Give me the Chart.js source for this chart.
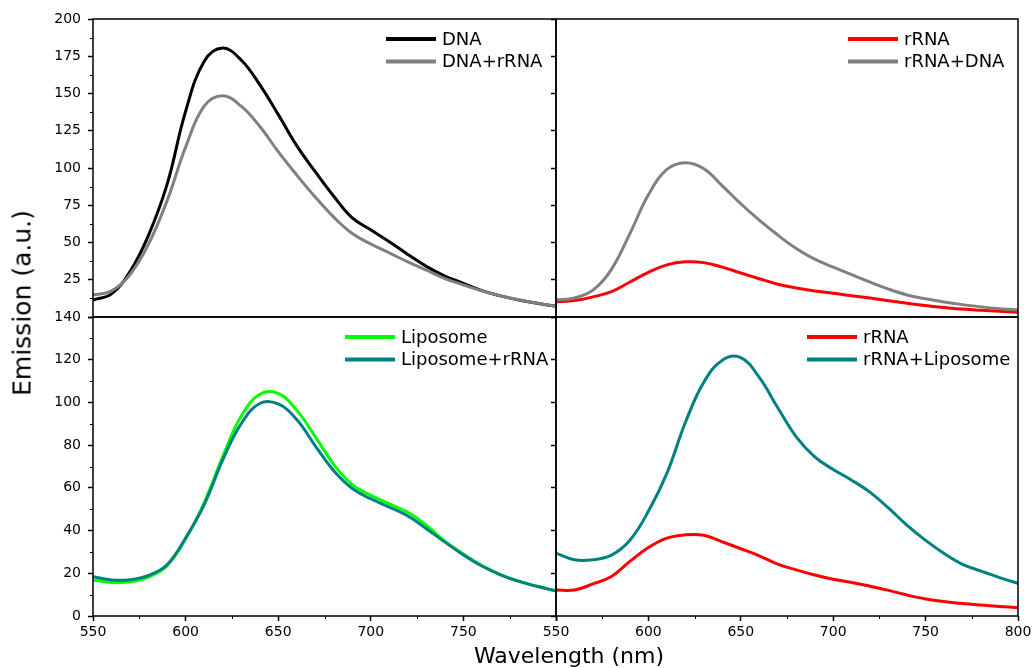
<!DOCTYPE html>
<html>
<head>
<meta charset="utf-8">
<script src="https://cdn.jsdelivr.net/npm/chart.js@4.4.1/dist/chart.umd.min.js"></script>
<style>
  html, body { margin: 0; padding: 0; background: #fff; }
  #stage { position: relative; width: 1032px; height: 668px; overflow: hidden; }
  #stage canvas { position: absolute; left: 0; top: 0; }
  .axis-title { position: absolute; font-family: 'DejaVu Sans', sans-serif; color: #000; white-space: nowrap; line-height: 1; }
  #ytitle { left: 22px; top: 303px; font-size: 25px; transform: translate(-50%, -50%) rotate(-90deg); }
  #xtitle { left: 569px; top: 645px; font-size: 22px; transform: translateX(-50%); }
</style>
</head>
<body>
<div id="stage">
  <div id="ytitle" class="axis-title">Emission (a.u.)</div>
  <div id="xtitle" class="axis-title">Wavelength (nm)</div>
</div>
<script>
// Four emission spectra panels (2x2) at 10 nm steps.
const wavelength = [550, 560, 570, 580, 590, 600, 610, 620, 630, 640, 650, 660, 670,
  680, 690, 700, 710, 720, 730, 740, 750, 760, 770, 780, 790, 800];

// top left
const dna = [11.4, 15.5, 30.5, 55, 89, 138, 171.5, 180.5, 172.5, 156, 136, 115, 97.5,
  81, 66.5, 58.5, 50.5, 42, 34, 27.5, 22.6, 17.7, 14.2, 11.4, 9.2, 7.2];
const dnaRrna = [14.8, 17.5, 28.5, 49, 78, 114, 141.5, 148.5, 141.5, 128, 111, 95.3, 80.5,
  67, 56, 49, 43, 37, 31.4, 25.8, 21.5, 17.5, 14.3, 11.6, 9.3, 7.2];

// top right
const rrnaTop = [10.3, 11, 13.5, 17, 23.5, 30, 35, 37, 36.5, 33.5, 29.5, 25.7, 22,
  19.5, 17.5, 16, 14.3, 12.8, 10.9, 9.2, 7.7, 6.3, 5.3, 4.5, 3.8, 3.2];
const rrnaDna = [11.4, 12.8, 18, 32, 56, 82, 99, 103.5, 99.5, 88, 76, 65, 55,
  46, 38.8, 33.5, 28.4, 23.4, 18.7, 14.8, 12.2, 10, 8.3, 6.8, 5.6, 4.7];

// bottom left
const liposome = [16.9, 15.7, 16, 18.2, 23.5, 36, 53, 74.5, 93.5, 103.8, 104.2, 96.4, 84,
  71, 61.5, 56.5, 52.5, 48.5, 42.5, 35, 29, 23.6, 19.4, 16.3, 13.9, 11.8];
const liposomeRrna = [18.4, 16.9, 17, 19, 24, 36.5, 52, 73, 90, 99.5, 99.3, 92, 79.7,
  68, 59.7, 54.9, 51, 46.8, 40.9, 34.6, 28.6, 23.4, 19.3, 16.2, 13.8, 11.7];

// bottom right
const rrnaBottom = [12.2, 12.2, 15, 18.5, 25.6, 32.1, 36.5, 38, 37.8, 34.7, 31.5, 28.2, 24.3,
  21.6, 19.2, 17.2, 15.7, 13.9, 12, 9.8, 8, 6.8, 5.8, 5.1, 4.5, 3.9];
const rrnaLiposome = [29.4, 26.3, 26.3, 28.5, 35.5, 49, 66.8, 90.6, 109.5, 119.8, 121, 111.7, 97.5,
  83.9, 74.5, 68.6, 63.6, 57.9, 50.5, 42.4, 35.4, 29.3, 24.2, 21, 18, 15.3];

const W = 1032;
const H = 668;
const FONT = "'DejaVu Sans', sans-serif";
Chart.defaults.font.family = FONT;

const panels = [
  {
    box: { left: 93, top: 19, right: 556, bottom: 317 },
    yMax: 200, yStep: 25, hideY: 0, hideX: null, legendOffset: 170,
    series: [['DNA', dna, '#000000'], ['DNA+rRNA', dnaRrna, '#808080']]
  },
  {
    box: { left: 556, top: 19, right: 1018, bottom: 317 },
    yMax: 200, yStep: 25, hideY: null, hideX: null, legendOffset: 170,
    series: [['rRNA', rrnaTop, '#ff0000'], ['rRNA+DNA', rrnaDna, '#808080']]
  },
  {
    box: { left: 93, top: 317, right: 556, bottom: 616 },
    yMax: 140, yStep: 20, hideY: null, hideX: 800, legendOffset: 211,
    series: [['Liposome', liposome, '#00ff00'], ['Liposome+rRNA', liposomeRrna, '#008080']]
  },
  {
    box: { left: 556, top: 317, right: 1018, bottom: 616 },
    yMax: 140, yStep: 20, hideY: null, hideX: null, legendOffset: 211,
    series: [['rRNA', rrnaBottom, '#ff0000'], ['rRNA+Liposome', rrnaLiposome, '#008080']]
  }
];

// black frame round the plot area of each panel
const framePlugin = {
  id: 'panelFrame',
  afterDraw(chart) {
    const { ctx, chartArea: a } = chart;
    ctx.save();
    ctx.strokeStyle = '#000';
    ctx.lineWidth = 1.5;
    ctx.strokeRect(a.left, a.top, a.right - a.left, a.bottom - a.top);
    ctx.restore();
  }
};

// short minor ticks halfway between the labelled ones
function minorTickPlugin(p, isLeft, isBottom) {
  return {
    id: 'minorTicks',
    afterDraw(chart) {
      const { ctx, chartArea: a, scales } = chart;
      ctx.save();
      ctx.strokeStyle = '#000';
      ctx.lineWidth = 1;
      ctx.beginPath();
      if (isBottom) {
        for (let v = 575; v < 800; v += 50) {
          const px = Math.round(scales.x.getPixelForValue(v)) + 0.5;
          ctx.moveTo(px, a.bottom);
          ctx.lineTo(px, a.bottom + 3);
        }
      }
      if (isLeft) {
        for (let v = p.yStep / 2; v < p.yMax; v += p.yStep) {
          const py = Math.round(scales.y.getPixelForValue(v)) + 0.5;
          ctx.moveTo(a.left, py);
          ctx.lineTo(a.left - 3, py);
        }
      }
      ctx.stroke();
      ctx.restore();
    }
  };
}

// legend drawn inside the top right corner of the panel
function insetLegendPlugin(p) {
  return {
    id: 'insetLegend',
    afterDraw(chart) {
      const { ctx, chartArea: a } = chart;
      const x0 = a.right - p.legendOffset;
      ctx.save();
      ctx.font = `18px ${FONT}`;
      ctx.textBaseline = 'middle';
      ctx.textAlign = 'left';
      chart.data.datasets.forEach((ds, i) => {
        const y = a.top + 20 + i * 22.5;
        ctx.strokeStyle = ds.borderColor;
        ctx.lineWidth = 4;
        ctx.beginPath();
        ctx.moveTo(x0, y);
        ctx.lineTo(x0 + 50, y);
        ctx.stroke();
        ctx.fillStyle = '#000';
        ctx.fillText(ds.label, x0 + 56, y + 1);
      });
      ctx.restore();
    }
  };
}

const stage = document.getElementById('stage');

panels.forEach((p) => {
  const canvas = document.createElement('canvas');
  canvas.width = W;
  canvas.height = H;
  stage.insertBefore(canvas, stage.firstChild);

  const isLeft = p.box.left < 100;
  const isBottom = p.box.bottom > 600;
  const yW = isLeft ? p.box.left : 10;
  const xH = isBottom ? 30 : 0;
  const n = p.series.length;

  new Chart(canvas.getContext('2d'), {
    type: 'line',
    data: {
      datasets: p.series.map(([label, values, color], i) => ({
        label,
        data: wavelength.map((w, k) => ({ x: w, y: values[k] })),
        borderColor: color,
        backgroundColor: color,
        borderWidth: 3,
        pointRadius: 0,
        tension: 0.4,
        fill: false,
        order: n - 1 - i
      }))
    },
    options: {
      responsive: false,
      animation: false,
      events: [],
      layout: {
        padding: {
          left: p.box.left - yW,
          top: p.box.top,
          right: W - p.box.right,
          bottom: H - p.box.bottom - xH
        }
      },
      plugins: { legend: { display: false }, tooltip: { enabled: false } },
      scales: {
        x: {
          type: 'linear',
          min: 550,
          max: 800,
          afterFit: (s) => { s.height = xH; s.paddingLeft = 0; s.paddingRight = 0; },
          border: { display: false },
          grid: { drawOnChartArea: false, drawTicks: isBottom, tickLength: 5, tickColor: '#000', tickWidth: 1.5 },
          ticks: {
            display: isBottom,
            stepSize: 50,
            autoSkip: false,
            maxRotation: 0,
            padding: 3,
            color: '#000',
            font: { size: 14 },
            callback: (v) => (v === p.hideX ? '' : String(v))
          }
        },
        y: {
          type: 'linear',
          min: 0,
          max: p.yMax,
          afterFit: (s) => { s.width = yW; s.paddingTop = 0; s.paddingBottom = 0; },
          border: { display: false },
          grid: { drawOnChartArea: false, drawTicks: true, tickLength: 5, tickColor: '#000', tickWidth: 1.5 },
          ticks: {
            display: isLeft,
            stepSize: p.yStep,
            autoSkip: false,
            padding: 7,
            color: '#000',
            font: { size: 14 },
            callback: (v) => (v === p.hideY ? '' : String(v))
          }
        }
      }
    },
    plugins: [framePlugin, minorTickPlugin(p, isLeft, isBottom), insetLegendPlugin(p)]
  });
});
</script>
</body>
</html>
